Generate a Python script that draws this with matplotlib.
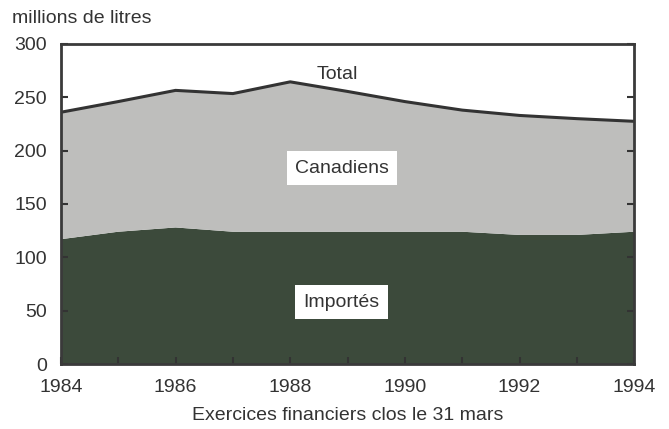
import numpy as np
import matplotlib.pyplot as plt

plt.rcParams['font.family'] = ['Liberation Sans', 'DejaVu Sans']

years = [1984, 1985, 1986, 1987, 1988, 1989, 1990, 1991, 1992, 1993, 1994]
importes = [117, 124, 128, 124, 124, 124, 124, 124, 121, 121, 124]
total = [236, 246, 256.5, 253.5, 264.5, 255.5, 246, 238, 233, 230, 227.5]
canadiens = [t - i for t, i in zip(total, importes)]

txt = '#333333'

fig = plt.figure(figsize=(6.69, 4.29), dpi=100)
ax = fig.add_axes([0.091, 0.1515, 0.857, 0.746])

ax.stackplot(years, importes, canadiens, colors=['#3c4a3b', '#bebebc'], lw=0)
ax.plot(years, total, color='#333333', lw=2.2)

ax.set_xlim(1984, 1994)
ax.set_ylim(0, 300)
ax.set_xticks(range(1984, 1995, 2))
ax.set_xticks(range(1984, 1995), minor=True)
ax.set_yticks(range(0, 301, 50))
ax.tick_params(direction='in', length=5, width=1.5, color='#333333',
               labelsize=14, labelcolor=txt, right=True)
ax.tick_params(axis='x', pad=11)
ax.tick_params(axis='y', pad=10)
ax.tick_params(which='minor', direction='in', length=5, width=1.5, color='#333333')
for s in ax.spines.values():
    s.set_linewidth(2)
    s.set_color('#3a3a3a')

ax.text(1988.83, 271, 'Total', ha='center', va='center', fontsize=14, color=txt)
ax.text(1988.9, 183.5, 'Canadiens', ha='center', va='center', fontsize=14, color=txt,
        bbox=dict(facecolor='white', edgecolor='none', pad=6))
ax.text(1988.9, 58, 'Importés', ha='center', va='center', fontsize=14, color=txt,
        bbox=dict(facecolor='white', edgecolor='none', pad=6))

fig.text(0.018, 0.958, 'millions de litres', fontsize=14, color=txt, va='center')
ax.set_xlabel('Exercices financiers clos le 31 mars', fontsize=14, color=txt, labelpad=8)

fig.savefig('out.png', dpi=100)
